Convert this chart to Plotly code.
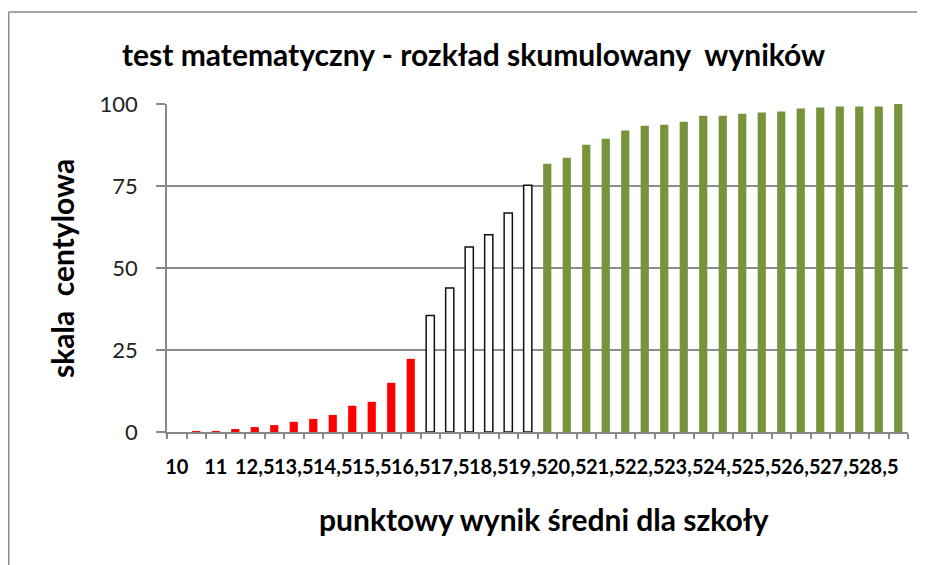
import plotly.graph_objects as go

categories = ["10", "10,5", "11", "12", "12,5", "13", "13,5", "14", "14,5", "15",
              "15,5", "16", "16,5", "17", "17,5", "18", "18,5", "19", "19,5", "20",
              "20,5", "21", "21,5", "22", "22,5", "23", "23,5", "24", "24,5", "25",
              "25,5", "26", "26,5", "27", "27,5", "28", "28,5", "29"]
values = [0, 0.3, 0.3, 0.9, 1.5, 2.1, 3.1, 4.0, 5.2, 8.0,
          9.2, 15.0, 22.3, 35.5, 43.9, 56.4, 60.1, 66.8, 75.2, 81.8,
          83.6, 87.6, 89.4, 91.9, 93.4, 93.7, 94.6, 96.4, 96.4, 97.0,
          97.4, 97.7, 98.6, 98.9, 99.2, 99.2, 99.2, 100]
# segment sizes: low (red), middle (white), high (green)
segment_counts = [13, 6, 19]
y_ticks = [0, 25, 50, 75, 100]

seg_styles = [
    dict(color="#FF0000", line=dict(color="#FF0000", width=0)),
    dict(color="#FFFFFF", line=dict(color="#111111", width=1.5)),
    dict(color="#77933C", line=dict(color="#77933C", width=0)),
]

x_idx = list(range(len(categories)))
fig = go.Figure()
start = 0
for cnt, st in zip(segment_counts, seg_styles):
    fig.add_trace(go.Bar(
        x=x_idx[start:start + cnt], y=values[start:start + cnt],
        width=0.42, marker=st, showlegend=False,
        hovertext=categories[start:start + cnt]))
    start += cnt

OFF = 8  # page body margin
W, H = 925 - OFF, 565 - OFF
L, T = 167 - OFF, 104 - OFF
R = W - (907.7 - OFF)
B = H - (432 - OFF)
pw, ph = W - L - R, H - T - B

def px(x):  # page x -> paper
    return (x - OFF - L) / pw

def py(y):  # page y -> paper
    return (H - B - (y - OFF)) / ph

FONT = "Lato"
border = dict(color="#8a8a8a", width=1.5)
fig.update_layout(
    width=W, height=H,
    margin=dict(l=L, r=R, t=T, b=B, pad=0),
    paper_bgcolor="white", plot_bgcolor="white",
    font=dict(family=FONT, color="#000000"),
    xaxis=dict(
        range=[-0.5, len(categories) - 0.5],
        tickmode="array", tickvals=x_idx[::2], ticktext=categories[::2],
        tickangle=0, ticks="", ticklabelstandoff=16,
        tickfont=dict(family=FONT, size=20, color="#000000", weight="bold"),
        showgrid=False, zeroline=False,
        showline=True, linecolor="#888888", linewidth=1.5,
        minor=dict(tick0=-0.5, dtick=1, ticks="outside", ticklen=5,
                   tickcolor="#888888", tickwidth=1.5, showgrid=False),
        fixedrange=True,
    ),
    yaxis=dict(
        range=[0, 100], tickmode="array", tickvals=y_ticks,
        ticks="outside", ticklen=9, tickcolor="#888888", tickwidth=1.5,
        ticklabelstandoff=14,
        tickfont=dict(family=FONT, size=22, color="#222222"),
        showgrid=True, gridcolor="#8c8c8c", gridwidth=1.5,
        zeroline=False, showline=True, linecolor="#888888", linewidth=1.5,
        fixedrange=True,
    ),
    annotations=[
        dict(text="<b>test matematyczny - rozkład skumulowany  wyników</b>",
             xref="paper", yref="paper", x=px(473), y=py(54),
             xanchor="center", yanchor="middle", showarrow=False,
             font=dict(family=FONT, size=30, color="#000000")),
        dict(text="<b>skala  centylowa</b>",
             xref="paper", yref="paper", x=px(62), y=py(268),
             xanchor="center", yanchor="middle", showarrow=False, textangle=-90,
             font=dict(family=FONT, size=30, color="#000000")),
        dict(text="<b>punktowy wynik średni dla szkoły</b>",
             xref="paper", yref="paper", x=px(544), y=py(519),
             xanchor="center", yanchor="middle", showarrow=False,
             font=dict(family=FONT, size=30, color="#000000")),
    ],
    shapes=[
        dict(type="line", xref="paper", yref="paper",
             x0=px(8.75), x1=px(8.75), y0=py(12), y1=py(565 + 10),
             line=border, layer="below"),
        dict(type="line", xref="paper", yref="paper",
             x0=px(8.75), x1=px(925 + 10), y0=py(12), y1=py(12),
             line=border, layer="below"),
    ],
)

fig.write_html("out.html")
